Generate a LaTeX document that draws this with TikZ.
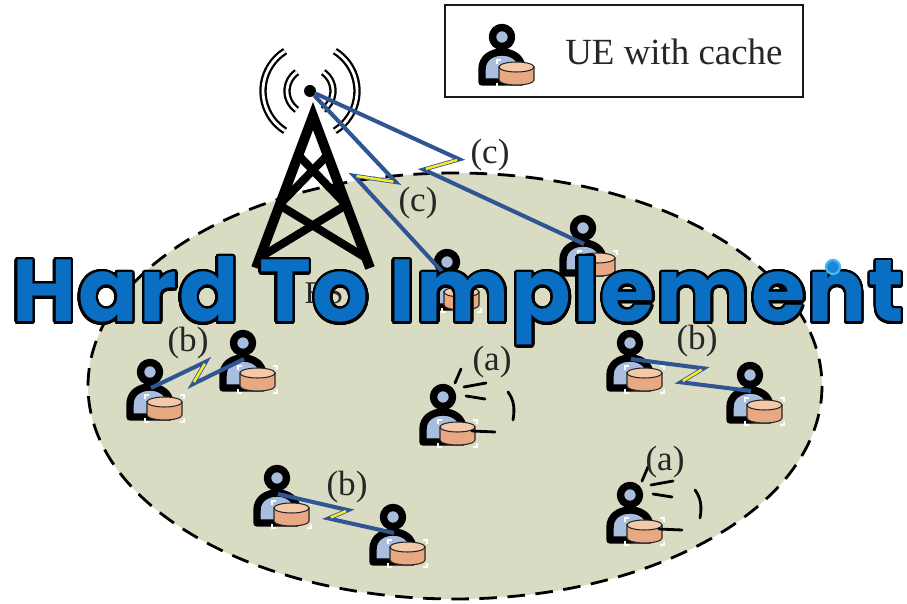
\documentclass[tikz,border=0pt]{standalone}
\usepackage{fontspec}
\setmainfont{Liberation Serif}
\newfontfamily\hardfont{Poppins}[LetterSpace=2]
\usepackage{contour}
\contourlength{1.4pt}
\contournumber{32}
\usetikzlibrary{calc}

\definecolor{fieldcol}{HTML}{D9DCC3}
\definecolor{uefill}{HTML}{A9BEDF}
\definecolor{cacheside}{HTML}{E8A882}
\definecolor{cachetop}{HTML}{F3C9A9}
\definecolor{linkblue}{HTML}{2F5592}
\definecolor{boltyellow}{HTML}{F7EA2A}
\definecolor{warnblue}{HTML}{0A6FC2}
\definecolor{dotblue}{HTML}{1C86DA}
\definecolor{dotring}{HTML}{45B8F0}

\tikzset{
  uebody/.style={fill=uefill, draw=black, line width=4.2pt, line join=round},
  cachebox/.style={draw=black!85, line width=0.6pt},
  cachemark/.style={draw=white, line width=0.8pt},
  towerline/.style={draw=black, line width=5.6pt, line join=miter},
  towerbrace/.style={draw=black, line width=4.6pt},
  wave/.style={draw=black, line width=1.3pt, double=white, double distance=1.6pt},
  linkline/.style={draw=linkblue, line width=2.3pt, line join=miter},
  boltcore/.style={draw=boltyellow, line width=1.4pt, shorten <=1.4pt, shorten >=1.4pt},
  tag/.style={font=\fontsize{20}{23}\selectfont, text=black!85, inner sep=0pt},
  sparkline/.style={draw=black, line width=1.6pt, line cap=round},
  legendbox/.style={draw=black!90, line width=1.6pt, minimum width=7.16cm, minimum height=1.84cm, inner sep=0pt},
  % user terminal with a local cache; origin at the head centre
  ue/.pic={
    \draw[uebody] (-20,45) -- (-20,33) .. controls (-21,9) and (21,9) .. (20,33) -- (20,45) -- cycle;
    \draw[uebody] (0,0) circle[radius=9.5];
    \filldraw[cachebox, fill=cacheside] (-3,30) -- (-3,43)
      arc[start angle=180, end angle=0, x radius=17.5, y radius=5] -- (32,30) -- cycle;
    \filldraw[cachebox, fill=cachetop] (14.5,30) ellipse[x radius=17.5, y radius=5];
    \draw[cachemark] (-5,27) -- (-5,23) -- (-1,23);
    \draw[cachemark] (30,23) -- (34,23) -- (34,27);
    \draw[cachemark] (-5,46) -- (-5,50) -- (-1,50);
    \draw[cachemark] (30,50) -- (34,50) -- (34,46);
    \coordinate (-port) at (1,16);
  },
  % strokes of a terminal serving itself from its own cache
  selfloop/.pic={
    \draw[sparkline] (12,-14) -- (18,-28);
    \draw[sparkline] (21,-10) -- (43,-14);
    \draw[sparkline] (23,-1) -- (42,2);
    \draw[sparkline] (65,-5) .. controls (71,3) and (72,12) .. (70,23);
    \draw[sparkline] (29,34) -- (52,35);
  },
}

% wireless link with a lightning kink: from, to, position, half length, offset
\newcommand\radiolink[5]{%
  \draw[linkline] (#1)
    -- ($(#1)!#3!(#2)!#4!0:(#2)!#5!90:(#2)$) coordinate (q1)
    -- ($(#1)!#3!(#2)!-#4!0:(#2)!-#5!90:(#2)$) coordinate (q2)
    -- (#2);
  \draw[boltcore] (q1) -- (q2);
}

\begin{document}
\begin{tikzpicture}[x=0.02cm, y=-0.02cm]
\useasboundingbox (0,0) rectangle (907,604);

% coverage area
\draw[fill=fieldcol, line width=1.6pt, dash pattern=on 10pt off 6pt] (455,386) ellipse[x radius=367, y radius=213];

% base station mast
\draw[towerline] (256,268) -- (313,116) -- (370,268);
\draw[towerbrace] (298.2,155) -- (346.2,205);
\draw[towerbrace] (327.6,155) -- (279.2,205);
\draw[towerbrace] (279.2,205) -- (366.0,258);
\draw[towerbrace] (346.2,205) -- (259.0,258);
\node[circle, fill=black, minimum size=0.24cm, inner sep=0pt] (bs) at (310,91) {};
\draw[wave] (bs.center) ++(122:47) arc[start angle=122, end angle=238, radius=47];
\draw[wave] (bs.center) ++(125:23) arc[start angle=125, end angle=235, radius=23];
\draw[wave] (bs.center) ++(-58:47) arc[start angle=-58, end angle=58, radius=47];
\draw[wave] (bs.center) ++(-55:23) arc[start angle=-55, end angle=55, radius=23];
\node[tag, font=\fontsize{18}{21}\selectfont] (bslabel) at (324,293) {BS};

% terminals
\pic (uA) at (447,262) {ue};
\pic (uB) at (583,228) {ue};
\pic (uC) at (150,372) {ue};
\pic (uD) at (243,343) {ue};
\pic (uE) at (630,343) {ue};
\pic (uF) at (750,375) {ue};
\pic (uG) at (277,478) {ue};
\pic (uH) at (393,517) {ue};
\pic (uI) at (443,397) {ue};
\pic (uJ) at (630,495) {ue};
\pic at (443,397) {selfloop};
\pic at (630,495) {selfloop};

% links
\radiolink{bs}{uA-port}{0.47}{8.5pt}{8.5pt}
\radiolink{bs}{uB-port}{0.48}{7.5pt}{7.5pt}
\radiolink{uC-port}{uD-port}{0.52}{5.5pt}{5pt}
\radiolink{uE-port}{uF-port}{0.51}{5.3pt}{5.5pt}
\radiolink{uG-port}{uH-port}{0.52}{4.5pt}{4pt}

% link labels
\node[tag] (lc2) at (490,155) {(c)};
\node[tag] (lc1) at (418,203) {(c)};
\node[tag] (lb1) at (188,343) {(b)};
\node[tag] (lb2) at (697,341) {(b)};
\node[tag] (lb3) at (347,487) {(b)};
\node[tag] (la1) at (492,362) {(a)};
\node[tag] (la2) at (665,462) {(a)};

% legend
\node[legendbox] (legend) at (624,51) {};
\pic (uL) at (502,37) {ue};
\node[anchor=base west, inner sep=0pt, font=\fontsize{21}{24}\selectfont, text=black!85] (legtext) at (565,65) {UE with cache};

% banner
\node[anchor=base west, inner sep=0pt, text=warnblue, font=\hardfont\bfseries\fontsize{50}{60}\selectfont] (banner) at (12,322) {\resizebox{17.84cm}{!}{\contour{black}{Hard To Implement}}};
\node[circle, fill=dotblue, draw=dotring, line width=1.3pt, minimum size=0.28cm, inner sep=0pt] (dot) at (833,267) {};
\end{tikzpicture}
\end{document}
